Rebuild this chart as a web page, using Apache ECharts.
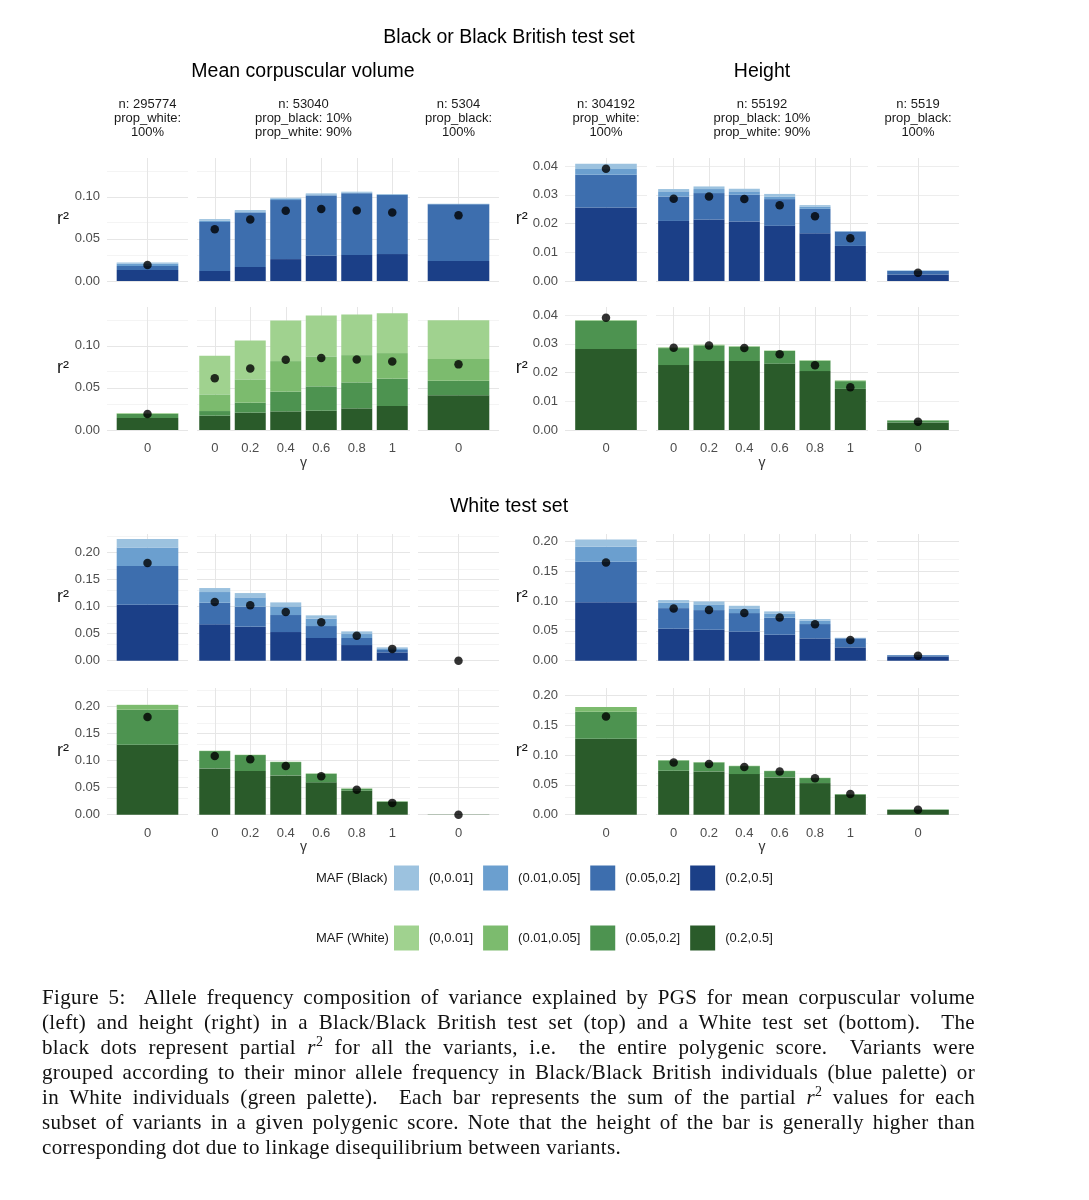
<!DOCTYPE html>
<html><head><meta charset="utf-8">
<script src="https://cdn.jsdelivr.net/npm/echarts@6/dist/echarts.min.js"></script>
<style>
html,body{margin:0;padding:0;background:#fff;}
#chart{position:absolute;left:0;top:0;width:1089px;height:1200px;}
#caption{position:absolute;left:42px;top:984.5px;width:933px;font-family:'Liberation Serif','Times New Roman',serif;font-size:21px;letter-spacing:0.35px;line-height:25px;color:#111;}
#caption div{text-align:justify;text-align-last:justify;white-space:nowrap;}
#caption div.last{text-align-last:left;}
</style></head><body>
<div id="chart"></div>
<div id="caption">
<div>Figure 5:&nbsp; Allele frequency composition of variance explained by PGS for mean corpuscular volume</div>
<div>(left) and height (right) in a Black/Black British test set (top) and a White test set (bottom).&nbsp; The</div>
<div>black dots represent partial <i>r</i><sup style="font-size:14px;line-height:0">2</sup> for all the variants, i.e.&nbsp; the entire polygenic score.&nbsp; Variants were</div>
<div>grouped according to their minor allele frequency in Black/Black British individuals (blue palette) or</div>
<div>in White individuals (green palette).&nbsp; Each bar represents the sum of the partial <i>r</i><sup style="font-size:14px;line-height:0">2</sup> values for each</div>
<div>subset of variants in a given polygenic score. Note that the height of the bar is generally higher than</div>
<div class="last">corresponding dot due to linkage disequilibrium between variants.</div>
</div>
<script>
// ---------------- DATA ----------------
const bins = ['(0,0.01]', '(0.01,0.05]', '(0.05,0.2]', '(0.2,0.5]'];
const gammaLabels = ['0', '0.2', '0.4', '0.6', '0.8', '1'];
const singleLabel = ['0'];
const facetLabelsMCV = ['n: 295774\nprop_white:\n100%', 'n: 53040\nprop_black: 10%\nprop_white: 90%', 'n: 5304\nprop_black:\n100%'];
const facetLabelsHeight = ['n: 304192\nprop_white:\n100%', 'n: 55192\nprop_black: 10%\nprop_white: 90%', 'n: 5519\nprop_black:\n100%'];

// each row = one MAF bin (order of `bins`); columns = [white-only ref, γ=0,0.2,0.4,0.6,0.8,1, black-only ref]
// Black or Black British test set
const bkMcvBlue = [
  [0.0015, 0.0020, 0.0016, 0.0012, 0.0012, 0.0010, 0.0004, 0.0002],
  [0.0028, 0.0015, 0.0016, 0.0016, 0.0012, 0.0007, 0.0008, 0.0005],
  [0.0048, 0.0580, 0.0644, 0.0700, 0.0716, 0.0733, 0.0700, 0.0673],
  [0.0130, 0.0120, 0.0166, 0.0260, 0.0300, 0.0310, 0.0320, 0.0237]
];
const bkMcvGreen = [
  [0.0006, 0.0458, 0.0462, 0.0482, 0.0486, 0.0483, 0.0474, 0.0462],
  [0.0006, 0.0198, 0.0277, 0.0363, 0.0356, 0.0324, 0.0304, 0.0257],
  [0.0048, 0.0055, 0.0118, 0.0234, 0.0289, 0.0308, 0.0324, 0.0174],
  [0.0142, 0.0170, 0.0206, 0.0221, 0.0229, 0.0257, 0.0285, 0.0411]
];
const bkHtBlue = [
  [0.0018, 0.0008, 0.0009, 0.0009, 0.0009, 0.0005, 0.0001, 0.0001],
  [0.0020, 0.0018, 0.0014, 0.0012, 0.0009, 0.0008, 0.0001, 0.0001],
  [0.0114, 0.0085, 0.0092, 0.0093, 0.0093, 0.0085, 0.0050, 0.0012],
  [0.0256, 0.0209, 0.0214, 0.0207, 0.0192, 0.0166, 0.0122, 0.0023]
];
const bkHtGreen = [
  [0.0001, 0.0001, 0.0001, 0.0001, 0.0001, 0.0001, 0.0001, 0.0000],
  [0.0002, 0.0002, 0.0002, 0.0001, 0.0001, 0.0001, 0.0002, 0.0001],
  [0.0098, 0.0059, 0.0054, 0.0050, 0.0044, 0.0036, 0.0027, 0.0007],
  [0.0282, 0.0226, 0.0240, 0.0240, 0.0231, 0.0205, 0.0143, 0.0026]
];
const bkMcvDots = [0.0190, 0.0613, 0.0731, 0.0834, 0.0854, 0.0838, 0.0814, 0.0779];
const bkHtDots = [0.0391, 0.0286, 0.0294, 0.0285, 0.0264, 0.0225, 0.0149, 0.0029];

// White test set
const whMcvBlue = [
  [0.0154, 0.0074, 0.0080, 0.0074, 0.0062, 0.0049, 0.0019, 0],
  [0.0346, 0.0198, 0.0173, 0.0160, 0.0136, 0.0074, 0.0030, 0],
  [0.0716, 0.0401, 0.0370, 0.0315, 0.0222, 0.0130, 0.0044, 0],
  [0.1037, 0.0673, 0.0630, 0.0531, 0.0420, 0.0290, 0.0154, 0]
];
const whMcvGreen = [
  [0.0005, 0.0002, 0.0002, 0.0002, 0.0002, 0.0002, 0.0001, 0],
  [0.0087, 0.0004, 0.0004, 0.0004, 0.0004, 0.0005, 0.0002, 0],
  [0.0648, 0.0321, 0.0296, 0.0247, 0.0160, 0.0037, 0.0010, 0.0001],
  [0.1296, 0.0858, 0.0809, 0.0728, 0.0599, 0.0444, 0.0235, 0.0003]
];
const whHtBlue = [
  [0.0123, 0.0045, 0.0050, 0.0044, 0.0034, 0.0027, 0.0005, 0.0001],
  [0.0250, 0.0089, 0.0095, 0.0078, 0.0072, 0.0056, 0.0006, 0.0001],
  [0.0675, 0.0345, 0.0329, 0.0312, 0.0284, 0.0240, 0.0150, 0.0021],
  [0.0980, 0.0535, 0.0518, 0.0485, 0.0435, 0.0373, 0.0223, 0.0072]
];
const whHtGreen = [
  [0.0003, 0.0002, 0.0002, 0.0002, 0.0002, 0.0002, 0, 0],
  [0.0078, 0.0004, 0.0003, 0.0004, 0.0003, 0.0003, 0.0001, 0],
  [0.0452, 0.0172, 0.0151, 0.0133, 0.0106, 0.0084, 0.0010, 0.0011],
  [0.1270, 0.0736, 0.0724, 0.0680, 0.0624, 0.0529, 0.0334, 0.0078]
];
const whMcvDots = [0.1812, 0.1086, 0.1025, 0.0901, 0.0713, 0.0463, 0.0219, 0.0];
const whHtDots = [0.1643, 0.0875, 0.0847, 0.0797, 0.0721, 0.0610, 0.0345, 0.0081];

// gridline values
const bkMcvMajor = [0, 0.05, 0.10];
const bkMcvMinor = [0.025, 0.075, 0.125];
const bkHtMajor = [0, 0.01, 0.02, 0.03, 0.04];
const bkHtMinor = [0.005, 0.015, 0.025, 0.035];
const whMajor = [0, 0.05, 0.10, 0.15, 0.20];
const whMinor = [0.025, 0.075, 0.125, 0.175, 0.225];

// ---------------- LAYOUT / STYLE ----------------
const FONT = "'Liberation Sans', Arial, Helvetica, sans-serif";
const blues = ['#9cc2df', '#6b9fcf', '#3d6eae', '#1b3f87'];
const greens = ['#a0d28f', '#7cbb6e', '#4d9350', '#2a5b2a'];

const colsX = {
  mcv: [[107, 188], [197, 410], [418, 499]],
  height: [[565, 647], [656, 868], [877, 959]]
};
const rowsY = [[158, 281], [307, 430], [534, 660.7], [688, 814.7]];

const rows = [
  { prefix: 'B', colors: blues, xlab: false, data: { mcv: bkMcvBlue, height: bkHtBlue }, dots: { mcv: bkMcvDots, height: bkHtDots },
    max: { mcv: 0.146, height: 0.0428 }, step: { mcv: 0.05, height: 0.01 },
    major: { mcv: bkMcvMajor, height: bkHtMajor }, minor: { mcv: bkMcvMinor, height: bkHtMinor } },
  { prefix: 'W', colors: greens, xlab: true, data: { mcv: bkMcvGreen, height: bkHtGreen }, dots: { mcv: bkMcvDots, height: bkHtDots },
    max: { mcv: 0.146, height: 0.0428 }, step: { mcv: 0.05, height: 0.01 },
    major: { mcv: bkMcvMajor, height: bkHtMajor }, minor: { mcv: bkMcvMinor, height: bkHtMinor } },
  { prefix: 'B', colors: blues, xlab: false, data: { mcv: whMcvBlue, height: whHtBlue }, dots: { mcv: whMcvDots, height: whHtDots },
    max: { mcv: 0.2347, height: 0.212 }, step: { mcv: 0.05, height: 0.05 },
    major: { mcv: whMajor, height: whMajor }, minor: { mcv: whMinor, height: whMinor } },
  { prefix: 'W', colors: greens, xlab: true, data: { mcv: whMcvGreen, height: whHtGreen }, dots: { mcv: whMcvDots, height: whHtDots },
    max: { mcv: 0.2347, height: 0.212 }, step: { mcv: 0.05, height: 0.05 },
    major: { mcv: whMajor, height: whMajor }, minor: { mcv: whMinor, height: whMinor } }
];

const grids = [], xAxes = [], yAxes = [], series = [];
let gi = 0;
rows.forEach((row, r) => {
  ['mcv', 'height'].forEach(trait => {
    for (let f = 0; f < 3; f++) {
      const [x0, x1] = colsX[trait][f];
      const [y0, y1] = rowsY[r];
      grids.push({ left: x0, top: y0, width: x1 - x0, height: y1 - y0, containLabel: false });
      const cats = f === 1 ? gammaLabels : singleLabel;
      const idx = f === 0 ? [0] : (f === 1 ? [1, 2, 3, 4, 5, 6] : [7]);
      const ymax = row.max[trait];
      xAxes.push({
        type: 'category', gridIndex: gi, data: cats,
        axisLine: { show: false }, axisTick: { show: false }, splitLine: { show: false },
        axisLabel: { show: row.xlab, color: '#4d4d4d', fontSize: 13, margin: 12, fontFamily: FONT },
        name: (row.xlab && f === 1) ? 'γ' : '', nameLocation: 'middle', nameGap: 25,
        nameTextStyle: { color: '#333', fontSize: 14, fontFamily: FONT }
      });
      yAxes.push({
        type: 'value', gridIndex: gi, min: 0, max: ymax, interval: row.step[trait],
        axisLine: { show: false }, axisTick: { show: false }, splitLine: { show: false },
        axisLabel: { show: f === 0, showMaxLabel: false, color: '#4d4d4d', fontSize: 13, margin: 7, fontFamily: FONT,
          formatter: v => v.toFixed(2) },
        name: f === 0 ? 'r²' : '', nameLocation: 'middle', nameRotate: 0, nameGap: trait === 'mcv' ? 38 : 33,
        nameTextStyle: { color: '#1a1a1a', fontSize: 18, fontFamily: FONT }
      });
      const gridLines = [];
      row.major[trait].forEach(v => gridLines.push({ yAxis: v, lineStyle: { color: '#e6e6e6', width: 1 } }));
      row.minor[trait].filter(v => v < ymax).forEach(v => gridLines.push({ yAxis: v, lineStyle: { color: '#efefef', width: 0.7 } }));
      cats.forEach(c => gridLines.push({ xAxis: c, lineStyle: { color: '#e6e6e6', width: 1 } }));
      const panel = row.data[trait];
      for (let b = 3; b >= 0; b--) {
        const s = {
          type: 'bar', name: row.prefix + bins[b], xAxisIndex: gi, yAxisIndex: gi, stack: 's' + gi,
          barWidth: f === 1 ? 31 : 61.6,
          data: idx.map(i => panel[b][i]),
          itemStyle: { color: row.colors[b] }, animation: false, silent: true, z: 2
        };
        if (b === 3) {
          s.markLine = { silent: true, symbol: 'none', z: 1, animation: false, label: { show: false },
            lineStyle: { type: 'solid' }, emphasis: { disabled: true }, data: gridLines };
        }
        series.push(s);
      }
      series.push({
        type: 'scatter', xAxisIndex: gi, yAxisIndex: gi, data: idx.map(i => row.dots[trait][i]),
        symbolSize: 8.5, itemStyle: { color: '#000' }, z: 5, animation: false, silent: true
      });
      gi++;
    }
  });
});

const textEl = (x, y, text, size, opts) => Object.assign({
  type: 'text', x: x, y: y, silent: true,
  style: Object.assign({ text: text, fontSize: size, fontFamily: FONT, fill: '#000', align: 'center', verticalAlign: 'middle' }, opts || {})
});
const graphics = [
  textEl(509, 38, 'Black or Black British test set', 19.5),
  textEl(303, 72, 'Mean corpuscular volume', 19.5),
  textEl(762, 72, 'Height', 19.5),
  textEl(509, 507, 'White test set', 19.5),
  textEl(316, 878, 'MAF (Black)', 13, { align: 'left', fill: '#1a1a1a' }),
  textEl(316, 938, 'MAF (White)', 13, { align: 'left', fill: '#1a1a1a' })
];
['mcv', 'height'].forEach(trait => {
  const labels = trait === 'mcv' ? facetLabelsMCV : facetLabelsHeight;
  colsX[trait].forEach((c, f) => {
    graphics.push(textEl((c[0] + c[1]) / 2, 118.5, labels[f], 13, { lineHeight: 13.7, fill: '#1a1a1a' }));
  });
});

const legendBase = {
  orient: 'horizontal', left: 394, padding: 0, itemWidth: 25, itemHeight: 25, itemGap: 10,
  icon: 'rect', selectedMode: false,
  textStyle: { fontSize: 13, color: '#1a1a1a', fontFamily: FONT, padding: [0, 0, 0, 5] },
  formatter: name => name.slice(1)
};
const legends = [
  Object.assign({}, legendBase, { top: 865.5, data: bins.map(b => 'B' + b) }),
  Object.assign({}, legendBase, { top: 925.5, data: bins.map(b => 'W' + b) })
];

const chart = echarts.init(document.getElementById('chart'), null, { renderer: 'canvas' });
chart.setOption({
  backgroundColor: '#ffffff',
  animation: false,
  textStyle: { fontFamily: FONT },
  grid: grids, xAxis: xAxes, yAxis: yAxes, series: series,
  legend: legends,
  graphic: graphics
});
</script>
</body></html>
